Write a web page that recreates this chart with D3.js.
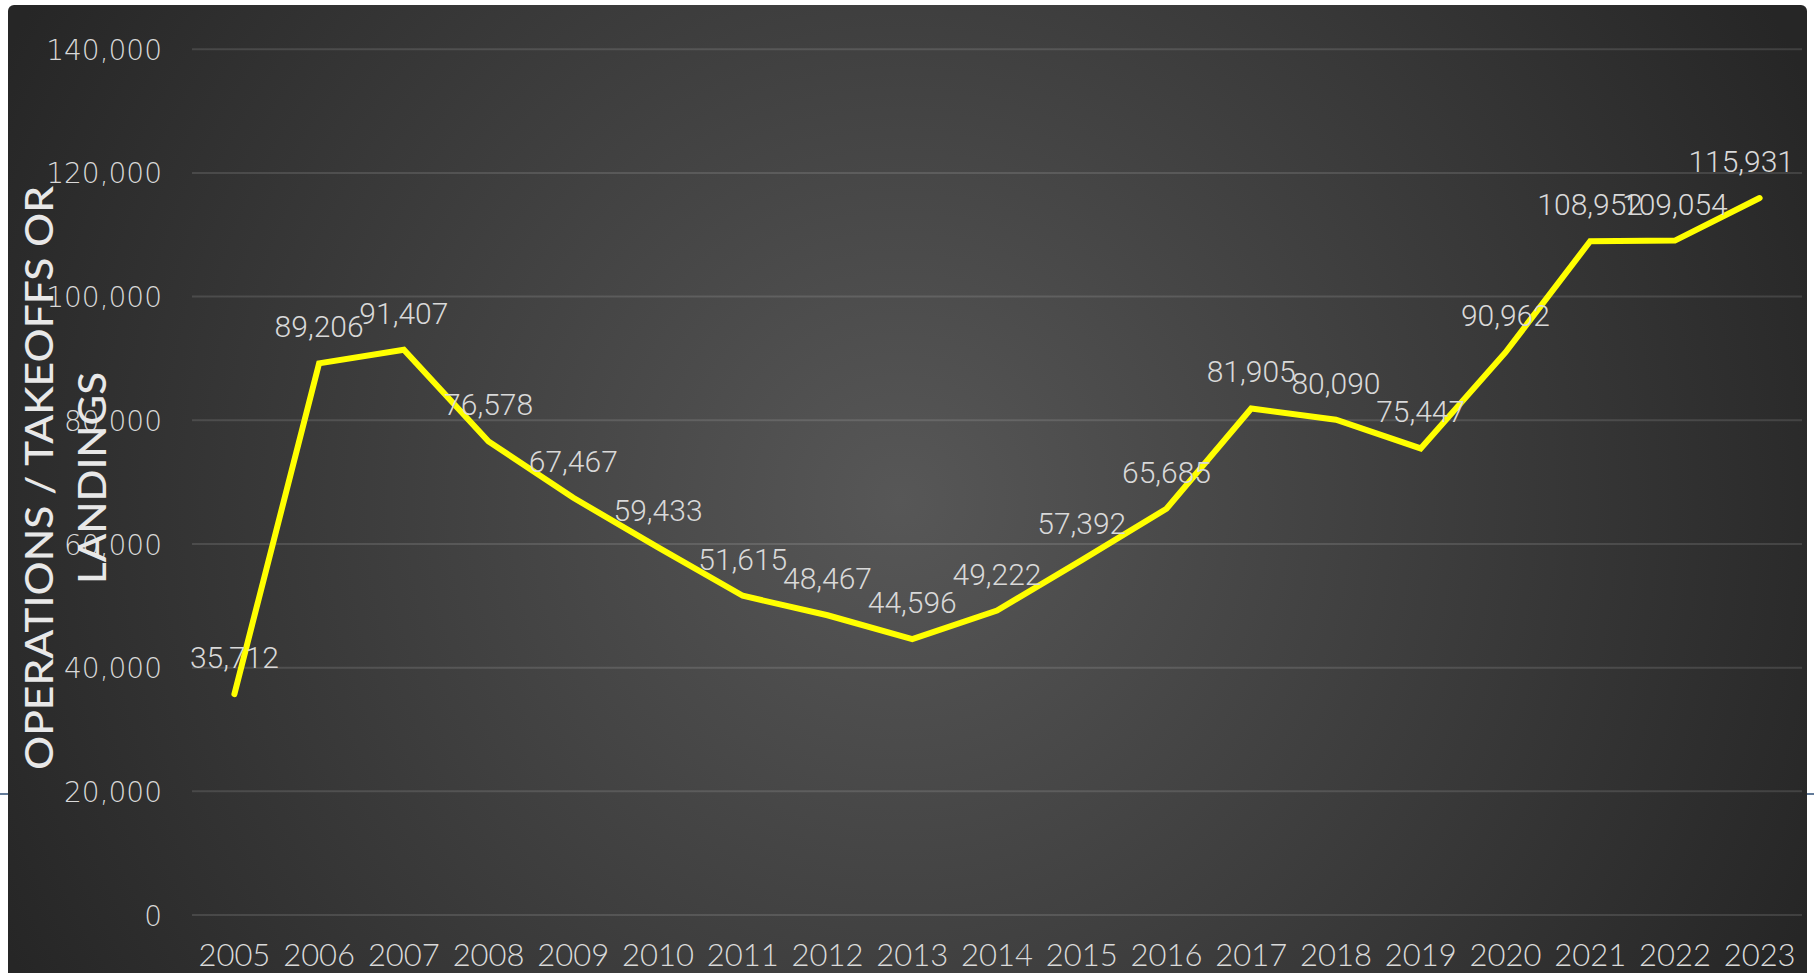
<!DOCTYPE html>
<html>
<head>
<meta charset="utf-8">
<script src="https://cdn.jsdelivr.net/npm/d3@7"></script>
<style>
  html, body { margin: 0; padding: 0; background: #ffffff; }
  svg { display: block; }
</style>
</head>
<body>
<svg id="chart" width="1814" height="973"></svg>
<script>
// ---- data ----
const years = ["2005","2006","2007","2008","2009","2010","2011","2012","2013","2014","2015","2016","2017","2018","2019","2020","2021","2022","2023"];
const operations = [35712, 89206, 91407, 76578, 67467, 59433, 51615, 48467, 44596, 49222, 57392, 65685, 81905, 80090, 75447, 90962, 108952, 109054, 115931];
const yTicks = [0, 20000, 40000, 60000, 80000, 100000, 120000, 140000];
const axisTitleLines = ["OPERATIONS /  TAKEOFFS OR", "LANDINGS"];

// ---- layout ----
const W = 1814, H = 973;
const plot = { left: 192, right: 1802, top: 49.2, bottom: 915 };

const svg = d3.select("#chart");
const defs = svg.append("defs");
const grad = defs.append("radialGradient")
  .attr("id", "bg").attr("gradientUnits", "userSpaceOnUse")
  .attr("cx", 900).attr("cy", 500).attr("r", 1000);
grad.append("stop").attr("offset", "0").attr("stop-color", "#575757");
grad.append("stop").attr("offset", "1").attr("stop-color", "#262626");

// thin blue rule behind the panel
svg.append("line").attr("x1", 0).attr("x2", W).attr("y1", 794).attr("y2", 794)
  .attr("stroke", "#2f4f77").attr("stroke-width", 1.5);

// panel
svg.append("rect").attr("x", 8).attr("y", 5).attr("width", 1799).attr("height", H + 20)
  .attr("rx", 6).attr("fill", "url(#bg)");

const x = d3.scaleBand().domain(years).range([plot.left, plot.right]).padding(0);
const y = d3.scaleLinear().domain([0, 140000]).range([plot.bottom, plot.top]);
const cx = d => x(d) + x.bandwidth() / 2;

// gridlines
svg.append("g").selectAll("line").data(yTicks).join("line")
  .attr("x1", plot.left).attr("x2", plot.right)
  .attr("y1", d => y(d)).attr("y2", d => y(d))
  .attr("stroke", "#ffffff").attr("stroke-opacity", 0.12).attr("stroke-width", 2);

// y axis labels
const yAxis = d3.axisLeft(y).tickValues(yTicks).tickFormat(d3.format(",")).tickSize(0).tickPadding(0);
const yg = svg.append("g").attr("transform", `translate(162,0)`).call(yAxis);
yg.select(".domain").remove();
yg.selectAll("text")
  .attr("fill", "#d9d9d9")
  .attr("dy", "0.36em")
  .style("font-family", "'DejaVu Sans', sans-serif")
  .style("font-weight", "200")
  .style("font-size", "28px");

// x axis labels
const xAxis = d3.axisBottom(x).tickSize(0).tickPadding(0);
const xg = svg.append("g").attr("transform", `translate(0,${plot.bottom})`).call(xAxis);
xg.select(".domain").remove();
xg.selectAll("text")
  .attr("y", 51).attr("dy", 0)
  .attr("fill", "#d9d9d9")
  .style("font-family", "Lato, sans-serif")
  .style("font-weight", "300")
  .style("font-size", "31px");

// axis title
const at = svg.append("g").attr("transform", "translate(0,478) rotate(-90)");
at.append("text").text(axisTitleLines[0])
  .attr("x", 0).attr("y", 53).attr("text-anchor", "middle")
  .attr("textLength", 584).attr("lengthAdjust", "spacingAndGlyphs")
  .attr("fill", "#e8e8e8")
  .style("font-family", "Lato, sans-serif").style("font-weight", "500").style("font-size", "39px");
at.append("text").text(axisTitleLines[1])
  .attr("x", 0).attr("y", 106).attr("text-anchor", "middle")
  .attr("textLength", 212).attr("lengthAdjust", "spacingAndGlyphs")
  .attr("fill", "#e8e8e8")
  .style("font-family", "Lato, sans-serif").style("font-weight", "500").style("font-size", "39px");

// line
const data = years.map((yr, i) => ({ yr, v: operations[i] }));
const line = d3.line().x(d => cx(d.yr)).y(d => y(d.v));
svg.append("path").datum(data).attr("d", line)
  .attr("fill", "none").attr("stroke", "#ffff00").attr("stroke-width", 6)
  .attr("stroke-linecap", "round").attr("stroke-linejoin", "miter");

// data labels (kept inside the plot area, as the reference does)
const labels = svg.append("g").selectAll("text").data(data).join("text")
  .attr("x", d => cx(d.yr)).attr("y", d => y(d.v) - 26)
  .attr("text-anchor", "middle")
  .attr("fill", "#d9d9d9")
  .style("font-family", "Roboto, sans-serif")
  .style("font-weight", "300")
  .style("font-size", "30px")
  .text(d => d3.format(",")(d.v));
labels.each(function(d) {
  const w = this.getComputedTextLength();
  const c = cx(d.yr);
  const maxRight = plot.right - 8;
  if (c + w / 2 > maxRight) d3.select(this).attr("x", maxRight - w / 2);
});
</script>
</body>
</html>
